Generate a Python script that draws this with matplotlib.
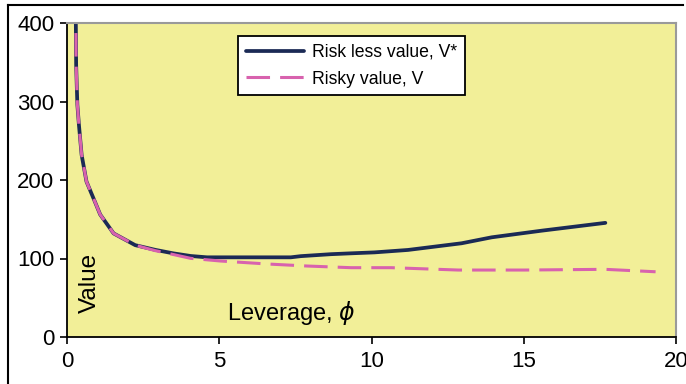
import matplotlib
matplotlib.use("Agg")
import matplotlib.pyplot as plt
from matplotlib.lines import Line2D

plt.rcParams['font.family'] = ['Liberation Sans', 'DejaVu Sans']
plt.rcParams['mathtext.fontset'] = 'dejavusans'

# Riskless value V* against leverage
lev_riskless = [0.27, 0.29, 0.30, 0.34, 0.39, 0.48, 0.64, 0.92, 1.09, 1.53, 2.24,
                2.90, 3.50, 4.06, 4.60, 5.50, 6.50, 7.35, 7.68, 8.67, 9.33,
                10.10, 11.20, 12.96, 13.95, 15.60, 17.68]
v_riskless = [430, 400, 347, 296, 271, 232, 198, 172, 156, 132, 117,
              111, 106.5, 103.2, 101.5, 101.5, 101.5, 101.5, 103, 105.5, 106.6,
              107.8, 110.9, 119.4, 127, 135.5, 145.4]

# Risky value V against leverage
lev_risky = [0.27, 0.29, 0.30, 0.34, 0.39, 0.48, 0.64, 0.92, 1.09, 1.53, 2.24,
             2.90, 3.50, 4.06, 5.04, 6.58, 7.90, 9.33, 10.65, 12.85, 15.04,
             17.67, 19.33]
v_risky = [430, 400, 347, 296, 271, 232, 198, 172, 156, 132, 117,
           110, 105, 100.2, 96.8, 93, 90.4, 88.3, 88.3, 85.3, 85.3,
           86.2, 83.1]

x_ticks = [0, 5, 10, 15, 20]
y_ticks = [0, 100, 200, 300, 400]

navy = '#1b2a55'
pink = '#d862ae'
plot_bg = '#f2ef98'

fig = plt.figure(figsize=(6.86, 3.84), dpi=100)
ax = fig.add_axes([67 / 686, 47 / 384, 609 / 686, 314 / 384])
ax.set_facecolor(plot_bg)

ax.plot(lev_riskless, v_riskless, color=navy, lw=2.7, solid_capstyle='round',
        label='Risk less value, V*')
ax.plot(lev_risky, v_risky, color=pink, lw=2.2, dashes=(7.7, 3.3),
        label='Risky value, V')

ax.set_xlim(0, 20)
ax.set_ylim(0, 400)
ax.set_xticks(x_ticks)
ax.set_yticks(y_ticks)
ax.tick_params(axis='both', direction='out', length=5, width=1.2,
               labelsize=16, colors='black')
ax.tick_params(axis='y', pad=4)
ax.tick_params(axis='x', pad=5)

for side in ('left', 'bottom'):
    ax.spines[side].set_color('black')
    ax.spines[side].set_linewidth(1.3)
for side in ('top', 'right'):
    ax.spines[side].set_color('#9a9a9a')
    ax.spines[side].set_linewidth(1.5)

ax.text(0.263, 0.076, r'Leverage, $\phi$', transform=ax.transAxes,
        fontsize=17, ha='left', va='center')
ax.text(0.038, 0.172, 'Value', transform=ax.transAxes, fontsize=17.5,
        rotation=90, ha='center', va='center')

leg = ax.legend(loc='upper left', bbox_to_anchor=(0.281, 0.959), fontsize=12.7,
                frameon=True, fancybox=False, framealpha=1,
                edgecolor='black', handlelength=3.3, handletextpad=0.45,
                labelspacing=0.55, borderpad=0.45, borderaxespad=0)
leg.get_frame().set_linewidth(1.3)

# outer frame of the figure
fig.add_artist(Line2D([8 / 686, 683 / 686], [1 - 5 / 384, 1 - 5 / 384],
                      color='black', lw=1.5, transform=fig.transFigure))
fig.add_artist(Line2D([8 / 686, 8 / 686], [0, 1 - 5 / 384],
                      color='black', lw=1.5, transform=fig.transFigure))

fig.savefig('out.png', dpi=100)
